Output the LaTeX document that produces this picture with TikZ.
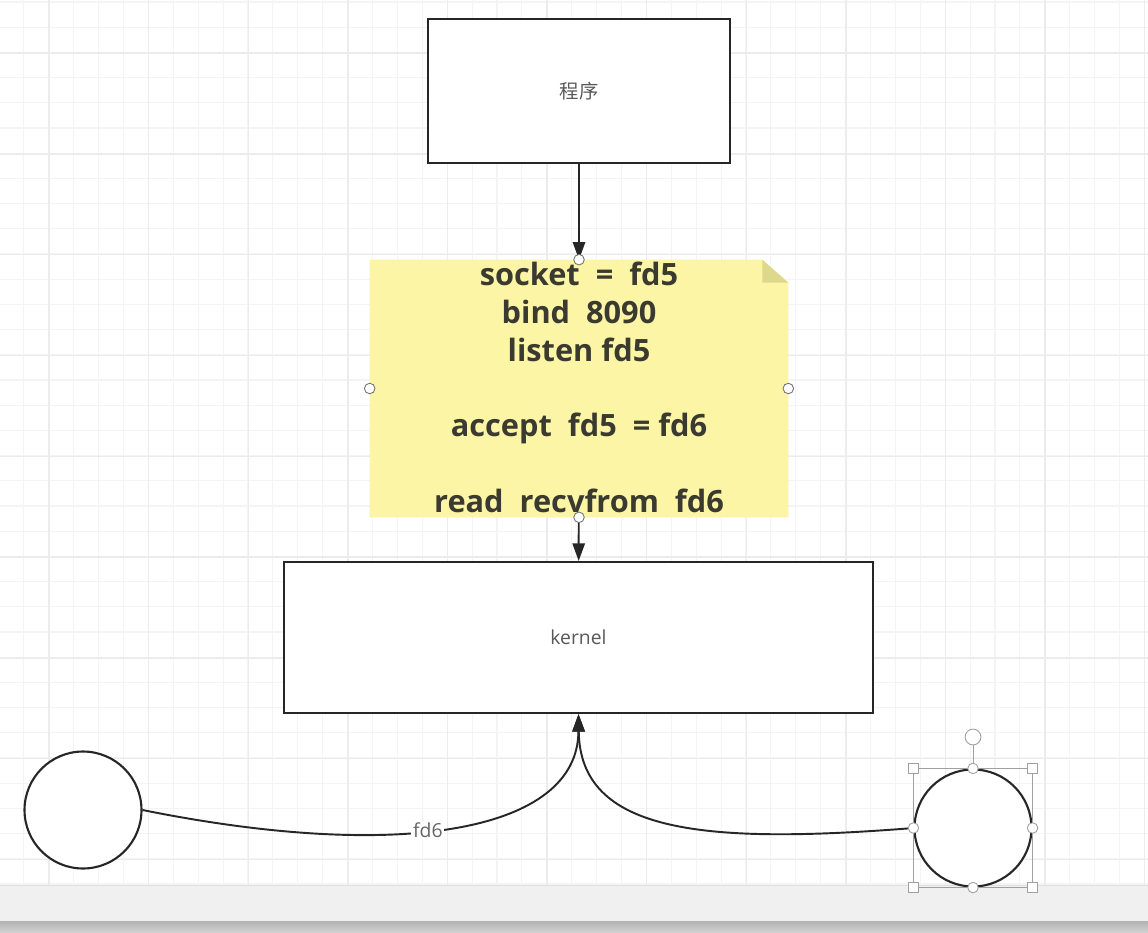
\documentclass[tikz,border=0pt]{standalone}
\usepackage{fontspec}
\setmainfont{Open Sans}
\newfontfamily\cjk{Noto Sans CJK SC}
\usetikzlibrary{arrows.meta}

\definecolor{notebg}{RGB}{251,245,165}
\definecolor{notefold}{RGB}{222,216,140}
\definecolor{gridminor}{RGB}{244,244,244}
\definecolor{gridmajor}{RGB}{236,236,236}
\definecolor{barbg}{RGB}{240,240,240}
\definecolor{handle}{RGB}{160,160,160}
\definecolor{notetext}{RGB}{58,58,48}

\begin{document}
\begin{tikzpicture}[x=0.02cm, y=-0.02cm,
  block/.style={rectangle, draw=black!85, line width=1.2pt, fill=white, inner sep=0pt,
                text=black!65, font=\fontsize{11}{13}\selectfont},
  flow/.style={draw=black!85, line width=1.1pt, -{Triangle[length=10pt,width=7pt]}},
  endpoint/.style={circle, draw=black!85, line width=1.2pt, fill=white, inner sep=0pt, minimum size=2.34cm},
  port/.style={circle, draw=black!55, fill=white, line width=0.5pt, inner sep=0pt, minimum size=6pt},
  grip/.style={rectangle, draw=handle, fill=white, line width=0.5pt, inner sep=0pt, minimum size=6pt}]
\useasboundingbox (0,0) rectangle (1148,932);
\fill[white] (0,0) rectangle (1148,932);

\foreach \k in {0,...,46}
  \draw[gridminor, line width=0.6pt] ({-1+24.9*\k},0) -- ({-1+24.9*\k},885);
\foreach \k in {0,...,35}
  \draw[gridminor, line width=0.6pt] (0,{2+25.2*\k}) -- (1148,{2+25.2*\k});
\foreach \k in {0,...,11}
  \draw[gridmajor, line width=0.8pt] ({49+99.6*\k},0) -- ({49+99.6*\k},885);
\foreach \k in {0,...,8}
  \draw[gridmajor, line width=0.8pt] (0,{53+100.8*\k}) -- (1148,{53+100.8*\k});

\fill[barbg] (0,885) rectangle (1148,921);
\draw[black!12] (0,885) -- (1148,885);
\shade[top color=black!30, bottom color=black!18] (0,921) rectangle (1148,932);

\node[block, minimum width=6.04cm, minimum height=2.88cm,
      font=\cjk\fontsize{11}{13}\selectfont] (prog) at (579,91) {程序};

\node[minimum width=8.36cm, minimum height=5.14cm, inner sep=0pt] (note) at (579,388.5) {};
\fill[notebg] (note.north west) -- ([xshift=-0.52cm]note.north east)
      -- ([yshift=-0.46cm]note.north east) -- (note.south east) -- (note.south west) -- cycle;
\fill[notefold] ([xshift=-0.52cm]note.north east) -- ([yshift=-0.46cm]note.north east)
      -- ([xshift=-0.52cm,yshift=-0.46cm]note.north east) -- cycle;
\node[align=center, text=notetext, font=\bfseries\fontsize{17.5}{21.5}\selectfont] (code) at ([yshift=0.02cm]note)
      {socket\ \ =\ \ fd5\\ bind\ \ 8090\\ listen fd5\\[21.5pt] accept\ \ fd5\ \ = fd6\\[21.5pt] read\ \ recvfrom\ \ fd6};

\node[block, minimum width=11.78cm, minimum height=3.02cm] (kern) at (578.5,637.5) {kernel};

\node[endpoint] (cl) at (83,810) {};
\node[endpoint] (cr) at (973,828) {};

\draw[flow] (prog) -- (note);
\draw[flow] (note) -- (kern);
\draw[flow] (cl.east) .. controls (400,862) and (578,832) .. (kern.south)
      node[pos=0.44, fill=white, inner sep=1pt, text=black!60, font=\fontsize{11}{13}\selectfont] (lab) {fd6};
\draw[flow] (cr.west) .. controls (700,845) and (580,832) .. (kern.south);

\node[port] (pn) at (note.north) {};
\node[port] (pw) at (note.west) {};
\node[port] (pe) at (note.east) {};
\node[port] (ps) at (note.south) {};

\draw[handle, line width=0.5pt] (cr.west |- cr.north) rectangle (cr.east |- cr.south);
\node[port, minimum size=9pt, draw=handle] (rot) at (973,737) {};
\draw[handle, line width=0.5pt] (rot) -- (cr.north);
\node[grip] (g1) at (cr.west |- cr.north) {};
\node[grip] (g2) at (cr.east |- cr.north) {};
\node[grip] (g3) at (cr.west |- cr.south) {};
\node[grip] (g4) at (cr.east |- cr.south) {};
\node[port, draw=handle] (h1) at (cr.north) {};
\node[port, draw=handle] (h2) at (cr.south) {};
\node[port, draw=handle] (h3) at (cr.west) {};
\node[port, draw=handle] (h4) at (cr.east) {};
\end{tikzpicture}
\end{document}
